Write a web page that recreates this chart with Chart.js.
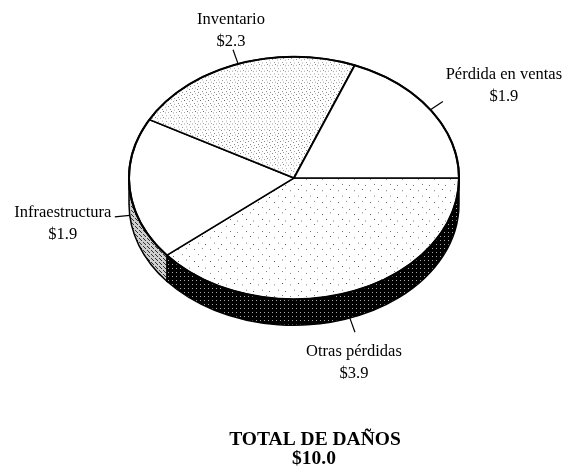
<!DOCTYPE html>
<html>
<head>
<meta charset="utf-8">
<script src="https://cdn.jsdelivr.net/npm/chart.js@4"></script>
<style>
  html, body { margin: 0; padding: 0; background: #fff; }
  #wrap { width: 570px; height: 472px; position: relative; }
</style>
</head>
<body>
<div id="wrap"><canvas id="chart"></canvas></div>
<script>
// datos (millones de $)
const categories = ["Otras pérdidas", "Infraestructura", "Inventario", "Pérdida en ventas"];
const values = [3.9, 1.9, 2.3, 1.9];
const valueLabels = ["$3.9", "$1.9", "$2.3", "$1.9"];
const totalTitle = "TOTAL DE DAÑOS";
const totalValue = "$10.0";

// aspecto del pastel inclinado
const TILT = 0.735;
const DEPTH = 26;

function stipple(size, bg, fg, dots) {
  const c = document.createElement("canvas");
  c.width = size; c.height = size;
  const g = c.getContext("2d");
  g.fillStyle = bg;
  g.fillRect(0, 0, size, size);
  g.fillStyle = fg;
  dots.forEach(d => g.fillRect(d[0], d[1], 1, 1));
  return g.createPattern(c, "repeat");
}

const ctx0 = document.getElementById("chart").getContext("2d");
const topFill = [
  stipple(16, "#fff", "#444", [[2, 3], [10, 1], [6, 10], [13, 12]]),
  "#ffffff",
  stipple(8, "#fff", "#777", [[0, 0], [5, 1], [2, 4], [6, 5], [3, 7]]),
  "#ffffff"
];
const sideFill = [
  stipple(4, "#000", "#aaa", [[0, 0]]),
  stipple(4, "#cfcfcf", "#333", [[1, 0], [3, 2], [0, 3]]),
  "#999",
  "#999"
];

// offsets de texto respecto al final de la guia
const labelOffset = [[-1, 19], [-52, -4], [-2, -30], [61, -27]];
const lineGap = 22;

const tiltPlugin = {
  id: "tilt",
  beforeDatasetsDraw(chart) {
    const ctx = chart.ctx;
    const arcs = chart.getDatasetMeta(0).data;
    const cx = arcs[0].x, cy = arcs[0].y;
    const rx = arcs[0].outerRadius, ry = rx * TILT;
    // cara lateral (solo la mitad delantera)
    arcs.forEach((a, i) => {
      const s = Math.max(a.startAngle, 0);
      const e = Math.min(a.endAngle, Math.PI);
      if (e <= s) return;
      ctx.save();
      ctx.beginPath();
      ctx.ellipse(cx, cy, rx, ry, 0, s, e);
      ctx.ellipse(cx, cy + DEPTH, rx, ry, 0, e, s, true);
      ctx.closePath();
      ctx.fillStyle = sideFill[i];
      ctx.fill();
      ctx.lineWidth = 1.5;
      ctx.strokeStyle = "#000";
      ctx.stroke();
      ctx.restore();
    });
    ctx.save();
    ctx.translate(cx, cy);
    ctx.scale(1, TILT);
    ctx.translate(-cx, -cy);
  },
  afterDatasetsDraw(chart) {
    const ctx = chart.ctx;
    ctx.restore();
    const arcs = chart.getDatasetMeta(0).data;
    const cx = arcs[0].x, cy = arcs[0].y;
    const rx = arcs[0].outerRadius, ry = rx * TILT;
    // contorno exterior
    ctx.save();
    ctx.beginPath();
    ctx.ellipse(cx, cy, rx, ry, 0, 0, Math.PI * 2);
    ctx.lineWidth = 2;
    ctx.strokeStyle = "#000";
    ctx.stroke();
    ctx.restore();

    // etiquetas con guias
    ctx.save();
    ctx.font = "16.5px 'Liberation Serif', 'Times New Roman', serif";
    ctx.fillStyle = "#000";
    ctx.strokeStyle = "#000";
    ctx.lineWidth = 1.2;
    ctx.textAlign = "center";
    ctx.textBaseline = "middle";
    arcs.forEach((a, i) => {
      const m = (a.startAngle + a.endAngle) / 2;
      const ax = cx + rx * Math.cos(m);
      let ay = cy + ry * Math.sin(m);
      if (Math.sin(m) > 0) ay += DEPTH;
      const len = 15;
      const ex = ax + Math.cos(m) * len;
      const ey = ay + Math.sin(m) * len;
      ctx.beginPath();
      ctx.moveTo(ax, ay);
      ctx.lineTo(ex, ey);
      ctx.stroke();
      const tx = ex + labelOffset[i][0];
      const ty = ey + labelOffset[i][1];
      ctx.fillText(categories[i], tx, ty);
      ctx.fillText(valueLabels[i], tx, ty + lineGap);
    });
    ctx.restore();

    // total
    ctx.save();
    ctx.font = "bold 19.5px 'Liberation Serif', 'Times New Roman', serif";
    ctx.fillStyle = "#000";
    ctx.textAlign = "center";
    ctx.textBaseline = "middle";
    ctx.fillText(totalTitle, 315, 440);
    ctx.fillText(totalValue, 314, 459);
    ctx.restore();
  }
};

new Chart(ctx0, {
  type: "pie",
  data: {
    labels: categories,
    datasets: [{
      data: values,
      backgroundColor: topFill,
      borderColor: "#000",
      borderWidth: 2,
      borderAlign: "center"
    }]
  },
  options: {
    responsive: true,
    maintainAspectRatio: false,
    animation: false,
    events: [],
    rotation: 90,
    radius: 165,
    layout: { padding: { left: 18, right: 0, top: 13, bottom: 129 } },
    plugins: {
      legend: { display: false },
      tooltip: { enabled: false }
    }
  },
  plugins: [tiltPlugin]
});
</script>
</body>
</html>
